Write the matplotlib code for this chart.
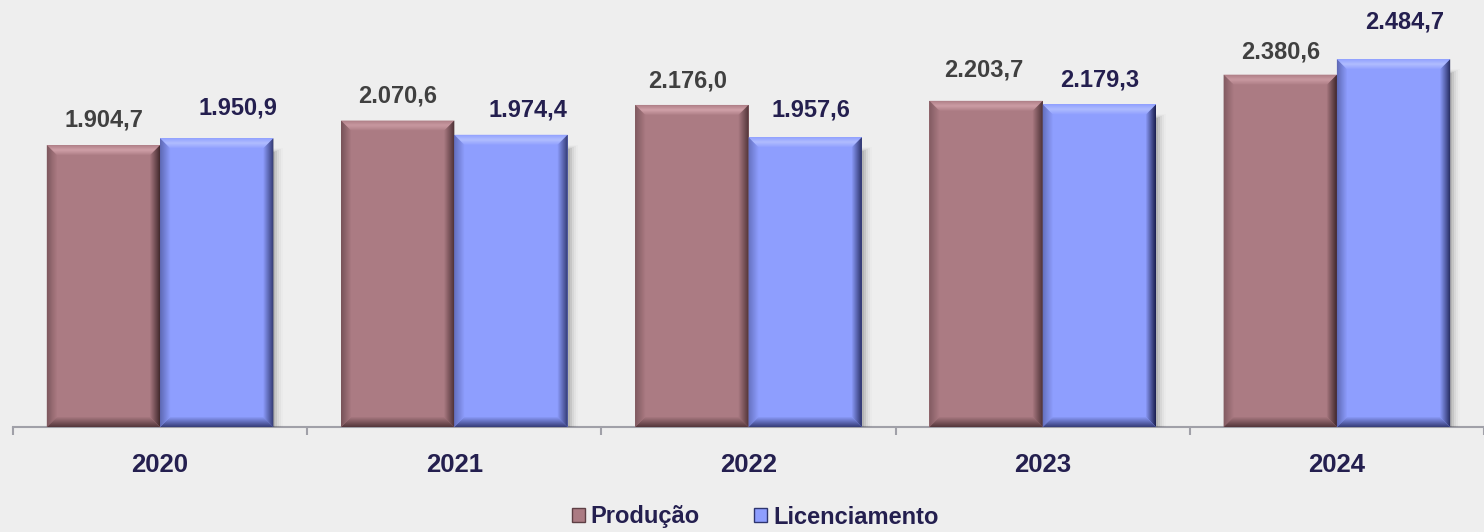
import matplotlib
matplotlib.use("Agg")
import matplotlib.pyplot as plt
from matplotlib.patches import Polygon, Rectangle, Patch
from matplotlib.colors import to_rgb

plt.rcParams['font.family'] = ['Liberation Sans', 'DejaVu Sans']

anos = ['2020', '2021', '2022', '2023', '2024']
producao = [1904.7, 2070.6, 2176.0, 2203.7, 2380.6]
licenciamento = [1950.9, 1974.4, 1957.6, 2179.3, 2484.7]

# deslocamento dos rótulos (pixels) para ficar como no original
off_prod = [(0, 25), (0, 25), (-4, 24), (-2, 31), (0, 23)]
off_lic = [(21, 30), (17, 25), (6, 27), (0, 24), (11, 37)]

fundo = '#eeeeee'
cor_prod = '#ab7b83'
cor_lic = '#8e9efe'
azul_escuro = '#241f4f'

fig = plt.figure(figsize=(14.84, 5.32), dpi=100, facecolor=fundo)
ax = fig.add_axes([13 / 1484, 105 / 532, 1 - 13 / 1484, 427 / 532])
ax.set_facecolor(fundo)

x = range(len(anos))
w = 0.385
b1 = ax.bar([i - w / 2 for i in x], producao, w, color=cor_prod, zorder=3)
b2 = ax.bar([i + w / 2 for i in x], licenciamento, w, color=cor_lic, zorder=3)

ax.set_xlim(-0.5, -0.5 + 1471 / 296)
ax.set_ylim(0, 427 / 0.148)

def fmt(v):
    return f'{v:,.1f}'.replace(',', 'X').replace('.', ',').replace('X', '.')

def mistura(c1, c2, t):
    a, b = to_rgb(c1), to_rgb(c2)
    return tuple(a[i] + (b[i] - a[i]) * t for i in range(3))

def chanfro(p, face, claro, escuro, sombra=True):
    x0, y0 = p.get_x(), p.get_y()
    x1, y1 = x0 + p.get_width(), y0 + p.get_height()
    px, py = 1 / 296, 1 / 0.148
    d = 11
    n = 11
    if sombra:
        for k, a in enumerate([0.12, 0.09, 0.06, 0.04, 0.02]):
            ax.add_patch(Rectangle((x1, y0 - 4 * py), (2 + 2 * k) * px,
                                   y1 - y0 - (10 - k) * py,
                                   color='#303030', alpha=a, lw=0, zorder=2))
    for j in range(n):
        t0, t1 = j * d / n, (j + 1) * d / n
        f = j / (n - 1)
        # topo: claro no meio da faixa
        c_top = mistura(claro, face, abs(f - 0.45) / 0.55)
        ax.add_patch(Polygon([(x0 + t0 * px, y1 - t0 * py), (x1 - t0 * px, y1 - t0 * py),
                              (x1 - t1 * px, y1 - t1 * py), (x0 + t1 * px, y1 - t1 * py)],
                             color=c_top, lw=0, zorder=4))
        # direita: escuro na borda
        c_dir = mistura(escuro, face, f)
        ax.add_patch(Polygon([(x1 - t0 * px, y1 - t0 * py), (x1 - t1 * px, y1 - t1 * py),
                              (x1 - t1 * px, y0 + t1 * py), (x1 - t0 * px, y0 + t0 * py)],
                             color=c_dir, lw=0, zorder=4))
        # base
        c_base = mistura(escuro, face, 0.25 + 0.75 * f)
        ax.add_patch(Polygon([(x0 + t0 * px, y0 + t0 * py), (x1 - t0 * px, y0 + t0 * py),
                              (x1 - t1 * px, y0 + t1 * py), (x0 + t1 * px, y0 + t1 * py)],
                             color=c_base, lw=0, zorder=4))
        # esquerda
        c_esq = mistura(escuro, face, 0.55 + 0.45 * f)
        ax.add_patch(Polygon([(x0 + t0 * px, y1 - t0 * py), (x0 + t1 * px, y1 - t1 * py),
                              (x0 + t1 * px, y0 + t1 * py), (x0 + t0 * px, y0 + t0 * py)],
                             color=c_esq, lw=0, zorder=4))

for p in b1:
    chanfro(p, cor_prod, '#d3a3ab', '#3a2226', sombra=False)
for p in b2:
    chanfro(p, cor_lic, '#b9c4ff', '#1c2050')

for p, v, (ox, oy) in zip(b1, producao, off_prod):
    ax.annotate(fmt(v), (p.get_x() + p.get_width() / 2, v), xytext=(ox, oy),
                textcoords='offset pixels', ha='center', va='center',
                fontsize=17, fontweight='bold', color='#404040', zorder=6)
for p, v, (ox, oy) in zip(b2, licenciamento, off_lic):
    ax.annotate(fmt(v), (p.get_x() + p.get_width() / 2, v), xytext=(ox, oy),
                textcoords='offset pixels', ha='center', va='center',
                fontsize=17, fontweight='bold', color=azul_escuro, zorder=6)

for s in ['top', 'right', 'left']:
    ax.spines[s].set_visible(False)
ax.spines['bottom'].set_color('#a0a0a8')
ax.spines['bottom'].set_linewidth(1.5)
ax.spines['bottom'].set_zorder(1)
ax.set_yticks([])
ax.set_xticks(list(x))
ax.set_xticklabels(anos, fontsize=18.5, fontweight='bold', color=azul_escuro)
ax.tick_params(axis='x', which='major', length=0, pad=19)
ax.set_xticks([i - 0.5 for i in range(len(anos) + 1)], minor=True)
ax.tick_params(axis='x', which='minor', length=6, width=1.5, color='#a0a0a8')

handles = [Patch(facecolor=cor_prod, edgecolor='#5e3f45', label='Produção'),
           Patch(facecolor=cor_lic, edgecolor='#2e3570', label='Licenciamento')]
leg = fig.legend(handles=handles, loc='center', bbox_to_anchor=(755 / 1484, 15 / 532),
                 ncol=2, frameon=False, handlelength=0.55, handleheight=0.55,
                 handletextpad=0.25, columnspacing=2.3,
                 prop={'size': 17, 'weight': 'bold'})
for t in leg.get_texts():
    t.set_color(azul_escuro)

fig.savefig('out.png', dpi=100, facecolor=fundo)
